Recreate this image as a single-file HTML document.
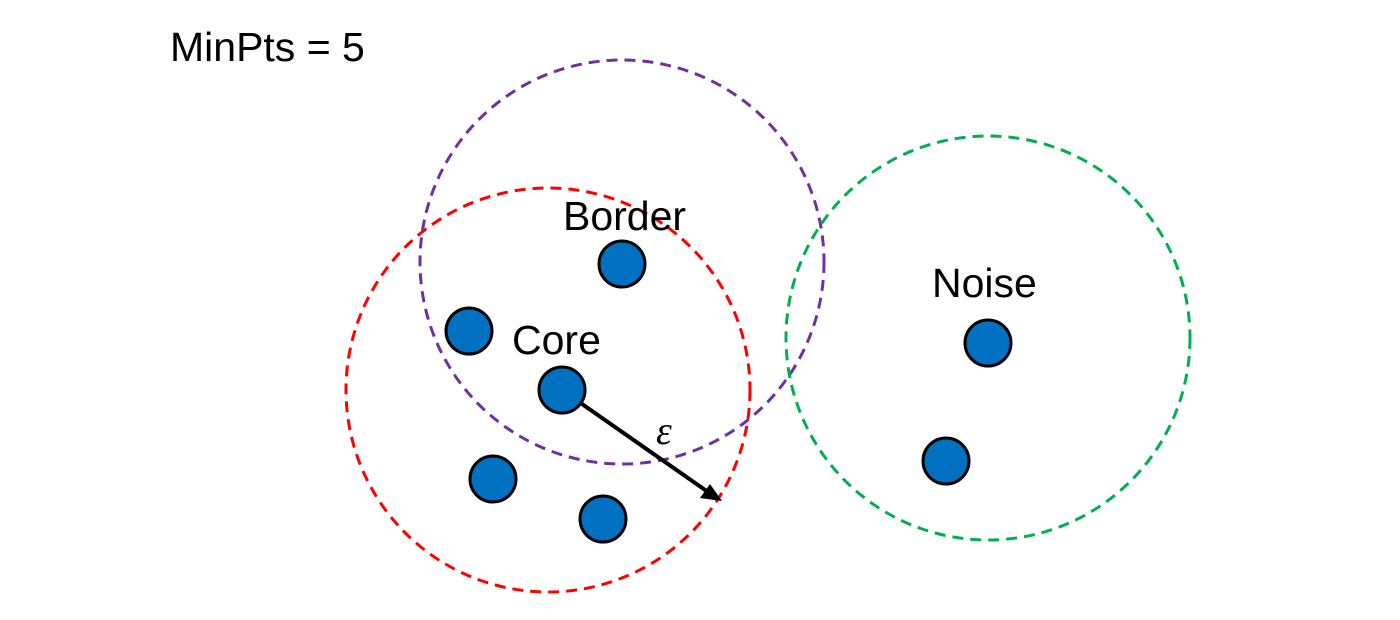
<!DOCTYPE html>
<html><head><style>body{margin:0;background:#fff}svg{display:block}</style></head>
<body>
<svg width="1400" height="620" viewBox="0 0 1400 620" xmlns="http://www.w3.org/2000/svg">
<rect width="1400" height="620" fill="#fff"/>
<text x="170" y="61" font-family="Liberation Sans, sans-serif" font-size="41" fill="#000">MinPts = 5</text>
<g fill="none" stroke-width="3" stroke-dasharray="11 7">
<circle cx="548" cy="390" r="202" stroke="#FF0000"/>
<circle cx="622" cy="262" r="202" stroke="#7030A0"/>
<circle cx="988" cy="338" r="202" stroke="#00B050"/>
</g>
<line x1="562" y1="390" x2="708" y2="492" stroke="#000" stroke-width="4"/>
<polygon points="722,501 700,498 710,484" fill="#000"/>
<text x="656" y="444" font-family="Liberation Serif, serif" font-style="italic" font-size="40">ε</text>
<g fill="#0070C0" stroke="#000" stroke-width="3">
<circle cx="622" cy="264" r="23"/>
<circle cx="469" cy="331" r="23"/>
<circle cx="562" cy="390" r="23"/>
<circle cx="493" cy="479" r="23"/>
<circle cx="603" cy="519" r="23"/>
<circle cx="988" cy="343" r="23"/>
<circle cx="946" cy="461" r="23"/>
</g>
<g font-family="Liberation Sans, sans-serif" font-size="41" fill="#000">
<text x="563" y="230">Border</text>
<text x="512" y="354">Core</text>
<text x="932" y="297">Noise</text>
</g>
</svg>
</body></html>
